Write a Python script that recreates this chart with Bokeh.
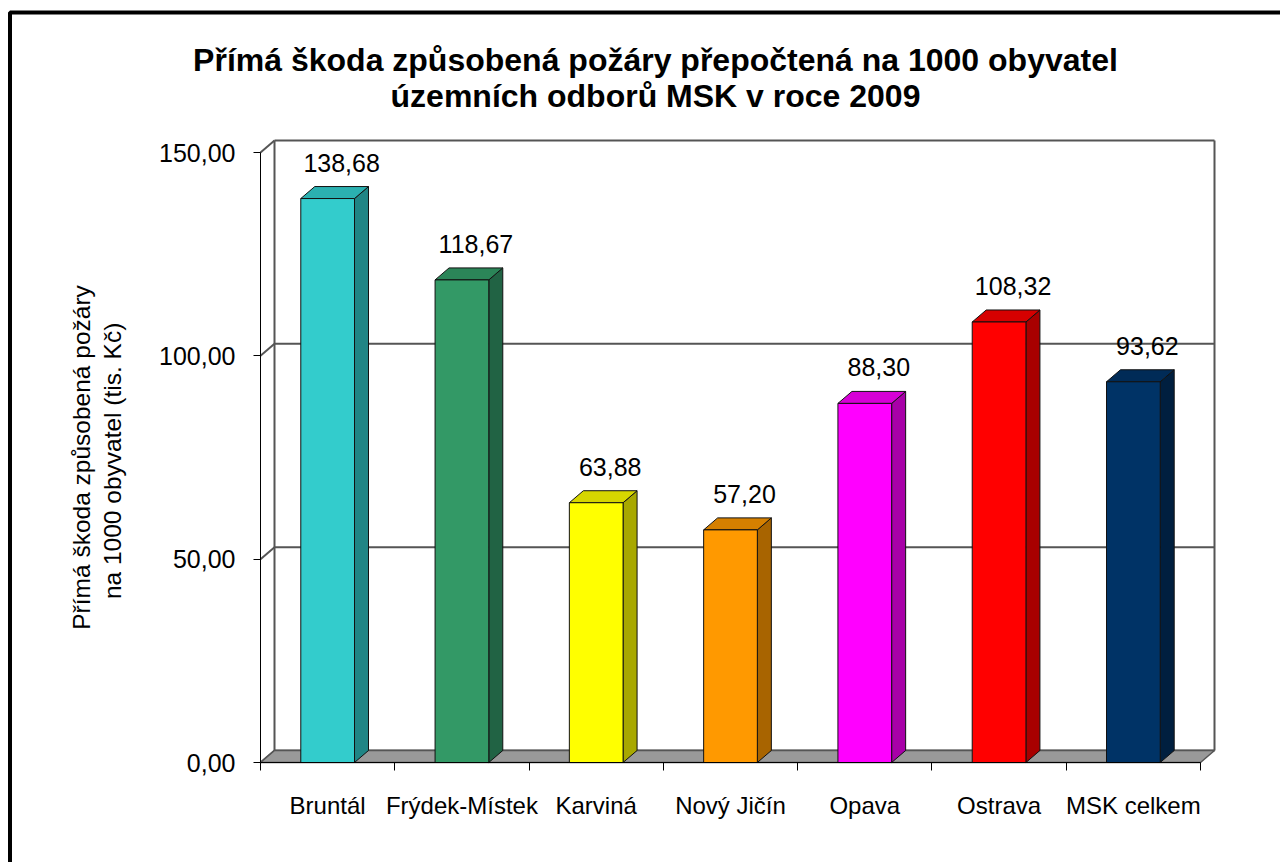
from bokeh.plotting import figure
from bokeh.models import Range1d, FixedTicker
from bokeh.core.properties import value
from bokeh.embed import file_html
from bokeh.resources import INLINE

# ---------------- data ----------------
categories = ["Bruntál", "Frýdek-Místek", "Karviná", "Nový Jičín", "Opava", "Ostrava", "MSK celkem"]
values = [138.68, 118.67, 63.88, 57.20, 88.30, 108.32, 93.62]
front_colors = ["#33CCCC", "#339966", "#FFFF00", "#FF9900", "#FF00FF", "#FF0000", "#003366"]
top_colors = ["#2BB0B0", "#2B8558", "#D6D600", "#D68000", "#D600D6", "#D60000", "#002B57"]
side_colors = ["#208585", "#216344", "#A8A800", "#A86400", "#A800A8", "#A80000", "#001F3F"]
y_tick_values = [0, 50, 100, 150]
y_tick_labels = ["0,00", "50,00", "100,00", "150,00"]
title_lines = ["Přímá škoda způsobená požáry přepočtená na 1000 obyvatel",
               "územních odborů MSK v roce 2009"]
y_title = "Přímá škoda způsobená požáry\nna 1000 obyvatel  (tis. Kč)"

FONT = "Liberation Sans"

# ---------------- geometry (pixels) ----------------
W, H = 1280, 862
OX, OY = 260, 762          # page position of data origin (front-left-bottom)
SX = 940 / 7.0             # px per category
SY = 610 / 150.0           # px per unit
DEPTH_X = 14 / SX          # 3D depth offset in data units
DEPTH_Y = 12 / SY


def px(page_x):
    return (page_x - OX) / SX


def py(page_y):
    return (OY - page_y) / SY


n = len(categories)
p = figure(width=W, height=H, output_backend="svg", toolbar_location=None, title=None,
           x_range=Range1d(px(0), px(W)), y_range=Range1d(py(H), py(0)),
           min_border=0, min_border_left=0, min_border_right=0,
           min_border_top=0, min_border_bottom=0,
           background_fill_color="white", border_fill_color="white")
p.outline_line_color = None
p.xgrid.visible = False
p.ygrid.visible = False

# ---------------- outer border ----------------
p.quad(left=px(9.5), right=px(W + 30), top=py(12), bottom=py(H + 30),
       fill_color=None, line_color="black", line_width=4)

# ---------------- title ----------------
p.text(x=[px(655), px(655)], y=[py(59), py(95)], text=title_lines,
       text_align="center", text_baseline="middle", text_font=value(FONT),
       text_font_size="32px", text_font_style="bold", text_color="black")

# ---------------- walls / floor ----------------
wall_col = "#555555"
p.segment(x0=DEPTH_X, y0=[v + DEPTH_Y for v in y_tick_values],
          x1=n + DEPTH_X, y1=[v + DEPTH_Y for v in y_tick_values],
          line_color=wall_col, line_width=2)
p.segment(x0=0, y0=y_tick_values, x1=DEPTH_X, y1=[v + DEPTH_Y for v in y_tick_values],
          line_color=wall_col, line_width=2)
p.segment(x0=[DEPTH_X, n + DEPTH_X], y0=DEPTH_Y, x1=[DEPTH_X, n + DEPTH_X],
          y1=y_tick_values[-1] + DEPTH_Y, line_color=wall_col, line_width=2)
p.patch([0, n, n + DEPTH_X, DEPTH_X], [0, 0, DEPTH_Y, DEPTH_Y],
        fill_color="#999999", line_color=wall_col, line_width=1.5)

# ---------------- 3D bars ----------------
half = 0.2
centers = [i + 0.5 for i in range(n)]
lefts = [c - half for c in centers]
rights = [c + half for c in centers]
side_xs = [[r, r + DEPTH_X, r + DEPTH_X, r] for r in rights]
side_ys = [[0, DEPTH_Y, v + DEPTH_Y, v] for v in values]
top_xs = [[l, r, r + DEPTH_X, l + DEPTH_X] for l, r in zip(lefts, rights)]
top_ys = [[v, v, v + DEPTH_Y, v + DEPTH_Y] for v in values]

p.patches(side_xs, side_ys, fill_color=side_colors, line_color="#111111", line_width=1)
p.patches(top_xs, top_ys, fill_color=top_colors, line_color="#111111", line_width=1)
p.quad(left=lefts, right=rights, bottom=0, top=values,
       fill_color=front_colors, line_color="#111111", line_width=1)

# value labels
val_text = [f"{v:.2f}".replace(".", ",") for v in values]
p.text(x=[c + DEPTH_X for c in centers], y=[v + DEPTH_Y + 24 / SY for v in values],
       text=val_text, text_align="center", text_baseline="alphabetic",
       text_font=value(FONT), text_font_size="25px", text_color="black")

# ---------------- axes ----------------
xa = p.xaxis[0]
xa.fixed_location = 0
xa.ticker = FixedTicker(ticks=centers, minor_ticks=list(range(n + 1)))
xa.major_label_overrides = {c: lab for c, lab in zip(centers, categories)}
xa.bounds = (0, n)
xa.major_tick_in = 0
xa.major_tick_out = 0
xa.minor_tick_in = 0
xa.minor_tick_out = 8
xa.minor_tick_line_color = "black"
xa.axis_line_color = "black"
xa.major_label_standoff = 21
xa.major_label_text_font = FONT
xa.major_label_text_font_size = "24px"
xa.major_label_text_color = "black"

ya = p.yaxis[0]
ya.fixed_location = 0
ya.ticker = FixedTicker(ticks=y_tick_values, minor_ticks=[])
ya.major_label_overrides = {v: lab for v, lab in zip(y_tick_values, y_tick_labels)}
ya.bounds = (0, y_tick_values[-1])
ya.major_tick_in = 0
ya.major_tick_out = 7
ya.major_tick_line_color = "black"
ya.axis_line_color = "black"
ya.major_label_standoff = 18
ya.major_label_text_font = FONT
ya.major_label_text_font_size = "25px"
ya.major_label_text_color = "black"
ya.axis_label = y_title
ya.axis_label_text_font = FONT
ya.axis_label_text_font_size = "24.5px"
ya.axis_label_text_font_style = "normal"
ya.axis_label_text_color = "black"
ya.axis_label_text_line_height = 1.15
ya.axis_label_standoff = 30

open("out.html", "w").write(file_html(p, INLINE))
